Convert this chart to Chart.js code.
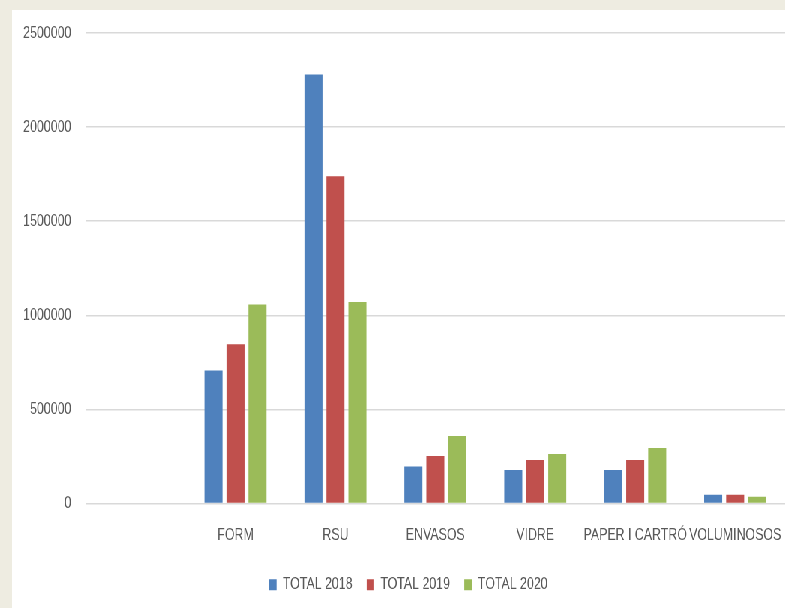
<!DOCTYPE html>
<html>
<head>
<meta charset="utf-8">
<script src="https://cdn.jsdelivr.net/npm/chart.js@4"></script>
<style>
  html, body { margin: 0; padding: 0; overflow: hidden; background: #eeece1; width: 785px; height: 608px; }
  /* the original uses a condensed font, so the whole chart is squeezed horizontally */
  #box { position: absolute; left: 12px; top: 10px; width: 1054px; height: 598px; background: #fff;
         transform: scaleX(0.75); transform-origin: 0 0; }
</style>
</head>
<body>
<div id="box"><canvas id="myChart"></canvas></div>
<script>
// categories (first one is empty in the original)
categories = ["", "FORM", "RSU", "ENVASOS", "VIDRE", "PAPER I CARTRÓ", "VOLUMINOSOS"];
total2018 = [null, 707000, 2280000, 197000, 178000, 178000, 46000];
total2019 = [null, 846000, 1739000, 252000, 231000, 231000, 46000];
total2020 = [null, 1058000, 1071000, 358000, 263000, 295000, 36000];
yTicks = [0, 500000, 1000000, 1500000, 2000000, 2500000];

Chart.defaults.font.family = '"Liberation Sans", Arial, sans-serif';
Chart.defaults.font.size = 16.5;
Chart.defaults.color = "#595959";

// y labels are wider than the axis box, don't clip them
const noClip = {
  id: 'noClip',
  beforeDraw(chart) { chart.scales.y._computeLabelArea = function() {}; }
};

let ctx = document.getElementById('myChart');
new Chart(ctx, {
  type: 'bar',
  data: {
    labels: categories,
    datasets: [
      { label: "TOTAL 2018", data: total2018, backgroundColor: "#4f81bd" },
      { label: "TOTAL 2019", data: total2019, backgroundColor: "#c0504d" },
      { label: "TOTAL 2020", data: total2020, backgroundColor: "#9bbb59" }
    ]
  },
  plugins: [noClip],
  options: {
    responsive: true,
    maintainAspectRatio: false,
    animation: false,
    categoryPercentage: 0.66,
    barPercentage: 0.82,
    layout: { padding: { left: 26, right: 23, top: 0, bottom: 5 } },
    plugins: {
      tooltip: { enabled: false },
      legend: {
        position: 'bottom',
        labels: { boxWidth: 10, boxHeight: 11, padding: 19, color: "#595959" }
      }
    },
    scales: {
      x: {
        grid: { display: false, drawTicks: false },
        border: { display: false },
        ticks: { autoSkip: false, maxRotation: 0, minRotation: 0, padding: 22 },
        afterFit: function(s) { s.height = 54; s.paddingLeft = 0; s.paddingRight = 0; }
      },
      y: {
        min: 0,
        max: 2500000,
        grid: { color: "#d9d9d9", lineWidth: 1.5, drawTicks: false },
        border: { display: false },
        ticks: {
          padding: 19,
          stepSize: 500000,
          callback: function(v) { return yTicks.indexOf(v) >= 0 ? String(v) : null; }
        },
        afterFit: function(s) { s.width = 72; s.paddingTop = 23; }
      }
    }
  }
});
</script>
</body>
</html>
